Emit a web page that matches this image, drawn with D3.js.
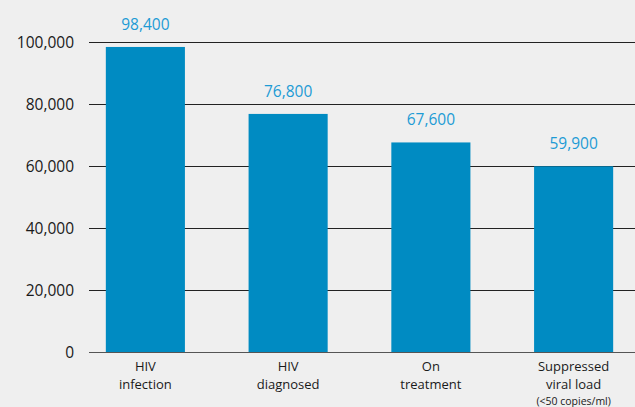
<!DOCTYPE html>
<html><head><meta charset="utf-8">
<script src="https://cdn.jsdelivr.net/npm/d3@7"></script>
<style>html,body{margin:0;padding:0;background:#efefef;}svg{display:block;}</style>
</head><body>
<svg id="c" width="635" height="407"></svg>
<script>
const categories = [["HIV","infection"],["HIV","diagnosed"],["On","treatment"],["Suppressed","viral load","(<50 copies/ml)"]];
const values = [98400, 76800, 67600, 59900];
const ticks = [0, 20000, 40000, 60000, 80000, 100000];

const svg = d3.select("#c");
const font = "'Open Sans', sans-serif";
svg.append("rect").attr("width",635).attr("height",407).attr("fill","#efefef");

const y = d3.scaleLinear().domain([0,100000]).range([352,42]);
const x = d3.scaleBand().domain(d3.range(categories.length)).range([74,645]).paddingInner(0.446).paddingOuter(0.223);

svg.append("g").selectAll("line").data(ticks).join("line")
  .attr("x1",89).attr("x2",635).attr("y1",d=>y(d)+0.5).attr("y2",d=>y(d)+0.5)
  .attr("stroke",d=>d===0?"#555":"#222").attr("stroke-width",1);

svg.append("g").selectAll("text").data(ticks).join("text")
  .attr("x",74).attr("y",d=>y(d)+6).attr("text-anchor","end")
  .attr("font-family",font).attr("font-size",15.5).attr("fill","#1a1a1a")
  .text(d=>d3.format(",")(d));

svg.append("g").selectAll("rect").data(values).join("rect")
  .attr("x",(d,i)=>x(i)).attr("width",x.bandwidth())
  .attr("y",d=>y(d)).attr("height",d=>y(0)-y(d))
  .attr("fill","#008bc2");

svg.append("g").selectAll("text").data(values).join("text")
  .attr("x",(d,i)=>x(i)+x.bandwidth()/2).attr("y",d=>y(d)-17)
  .attr("text-anchor","middle").attr("font-family",font).attr("font-size",15.5).attr("fill","#1d9bd5")
  .text(d=>d3.format(",")(d));

const cg = svg.append("g").selectAll("text").data(categories).join("text")
  .attr("x",(d,i)=>x(i)+x.bandwidth()/2).attr("text-anchor","middle")
  .attr("font-family",font).attr("fill","#1a1a1a");
cg.each(function(d,i){
  const t = d3.select(this);
  d.forEach((line,j)=>{
    t.append("tspan").attr("x",x(i)+x.bandwidth()/2).attr("y",j===2?404.5:371+j*17.5)
      .attr("font-size",j===2?10.5:13).text(line);
  });
});
</script>
</body></html>
